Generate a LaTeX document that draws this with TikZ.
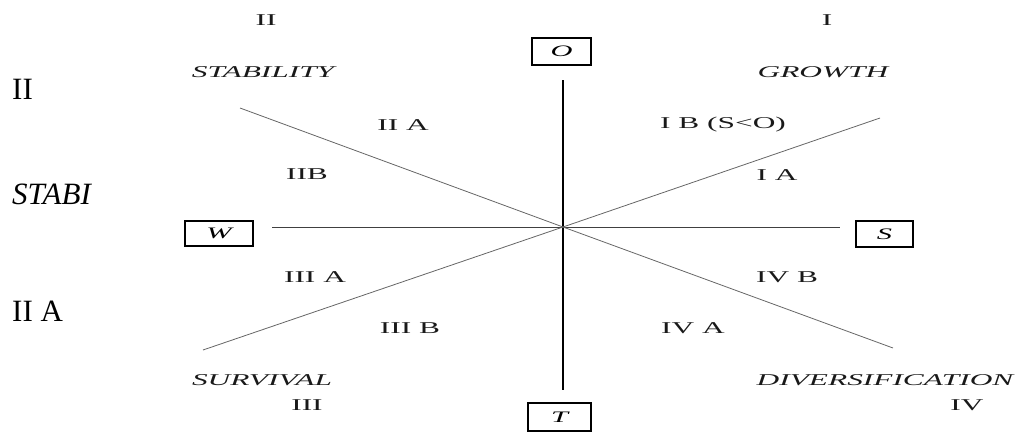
\documentclass[tikz,border=0pt]{standalone}
\usepackage{fontspec}
\setmainfont{Liberation Serif}
\newfontfamily\widefont[FakeStretch=1.9]{Liberation Serif}
\begin{document}
\begin{tikzpicture}[x=1pt,y=-1pt,
  lbl/.style={font=\widefont\fontsize{16.5}{18}\selectfont, inner sep=0pt, text=black!90},
  strat/.style={font=\widefont\itshape\fontsize{16.5}{18}\selectfont, inner sep=0pt, text=black!90},
  axbox/.style={draw, line width=1.1pt, inner sep=0pt, font=\widefont\itshape\fontsize{16}{18}\selectfont},
  big/.style={font=\fontsize{31}{34}\selectfont, anchor=west, inner sep=0pt},
  axis/.style={line width=1.7pt, black},
  hline/.style={line width=0.9pt, black!75},
  diag/.style={line width=0.8pt, black!60}]
\useasboundingbox (0,0) rectangle (1021,432);

% centre
\coordinate (c) at (563,227);

% axis boxes
\node[axbox, minimum width=59pt, minimum height=27pt] (O) at (561.5,51.5) {O};
\node[axbox, minimum width=68pt, minimum height=25pt] (W) at (219,233.5) {W};
\node[axbox, minimum width=57pt, minimum height=26pt] (S) at (884.5,234) {S};
\node[axbox, minimum width=63pt, minimum height=28pt] (T) at (559.5,417) {T};

% line end points
\coordinate (vt) at (563,80);
\coordinate (vb) at (563,390);
\coordinate (hl) at (272,227);
\coordinate (hr) at (840,227);
\coordinate (d1a) at (240,108);
\coordinate (d1b) at (893,348);
\coordinate (d2a) at (880,118);
\coordinate (d2b) at (203,350);

\draw[axis] (vt) -- (vb);
\draw[hline] (hl) -- (hr);
\draw[diag] (d1a) -- (c) -- (d1b);
\draw[diag] (d2b) -- (c) -- (d2a);

% quadrant labels
\node[lbl] (q2) at (266,20) {II};
\node[strat] (stab) at (263,72) {STABILITY};
\node[lbl] (q1) at (827,20) {I};
\node[strat] (grow) at (823,72) {GROWTH};
\node[strat] (surv) at (262,380) {SURVIVAL};
\node[lbl] (q3) at (307,405) {III};
\node[strat] (div) at (885,380) {DIVERSIFICATION};
\node[lbl] (q4) at (967,405) {IV};

% sub-region labels
\node[lbl] (IIA) at (403,125) {II A};
\node[lbl] (IB) at (723,125) {I B (S<O)};
\node[lbl] (IIB) at (307,174) {IIB};
\node[lbl] (IA) at (777,175) {I A};
\node[lbl] (IIIA) at (315,277) {III A};
\node[lbl] (IVB) at (787,277) {IV B};
\node[lbl] (IIIB) at (410,328) {III B};
\node[lbl] (IVA) at (693,328) {IV A};

% large text at the left
\node[big] (b1) at (12,89) {II};
\node[big] (b2) at (12,194) {\itshape STABI};
\node[big] (b3) at (12,311) {II A};
\end{tikzpicture}
\end{document}
